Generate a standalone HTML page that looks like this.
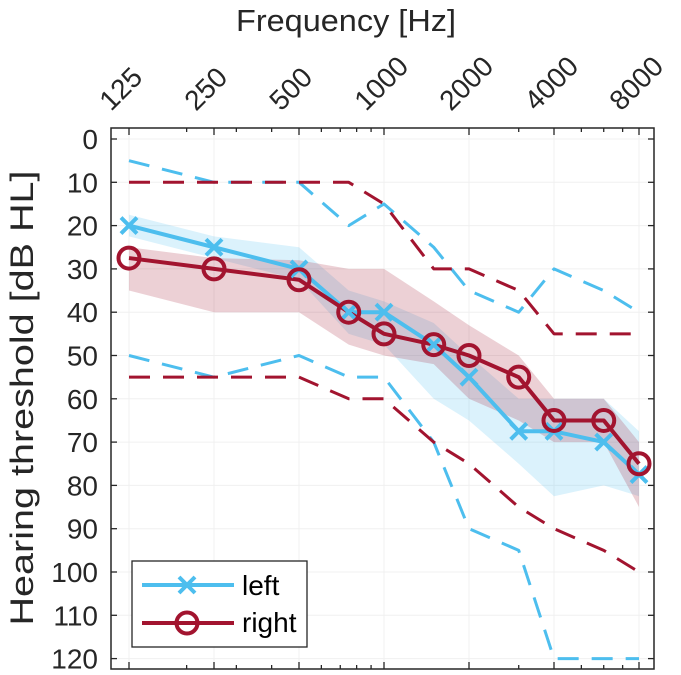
<!DOCTYPE html>
<html><head><meta charset="utf-8"><style>
html,body{margin:0;padding:0;background:#fff;}
svg{display:block;font-family:"Liberation Sans",sans-serif;}
</style></head><body>
<svg id="chart" width="681" height="675" viewBox="0 0 681 675" xmlns="http://www.w3.org/2000/svg"></svg>
<script>
const freqs=[125,250,500,750,1000,1500,2000,3000,4000,6000,8000];
const xTicks=[125,250,500,1000,2000,4000,8000];
const xTickLabels=["125","250","500","1000","2000","4000","8000"];
const yTicks=[0,10,20,30,40,50,60,70,80,90,100,110,120];
const leftMean=[20,25,30,40,40,47.5,55,67.5,67.5,70,77.5];
const rightMean=[27.5,30,32.5,40,45,47.5,50,55,65,65,75];
const leftBandUpper=[17.5,22.5,25,35,37.5,42.5,50,60,60,60,67.5];
const leftBandLower=[22.5,27.5,32.5,45,47.5,60,65,75,82.5,80,82.5];
const rightBandUpper=[25,27.5,28,30,30,37.5,43,50,60,60,70];
const rightBandLower=[35,40,40,47.5,50,52,60,65,70,70,85];
const leftMin=[5,10,10,20,15,25,35,40,30,35,40];
const leftMax=[50,55,50,55,55,70,90,95,120,120,120];
const rightMin=[10,10,10,10,15,30,30,35,45,45,45];
const rightMax=[55,55,55,60,60,70,75,85,90,95,100];

const NS="http://www.w3.org/2000/svg";
const svg=document.getElementById('chart');
const BL=111,BR=654,BT=128,BB=669;
const x=f=>129+85*Math.log2(f/125);
const y=v=>139+4.33*v;
function mk(tag,attrs,parent){const e=document.createElementNS(NS,tag);for(const k in attrs)e.setAttribute(k,attrs[k]);(parent||svg).appendChild(e);return e;}
const BLUE="#4DBEEE",RED="#A2142F";

const grid=mk('g',{});


xTicks.forEach(f=>mk('line',{x1:x(f),x2:x(f),y1:BT,y2:BB,stroke:'#f0f0f0','stroke-width':1},grid));
yTicks.forEach(v=>mk('line',{x1:BL,x2:BR,y1:y(v),y2:y(v),stroke:'#f0f0f0','stroke-width':1},grid));

function band(up,lo,color,name){
  let pts=freqs.map((f,i)=>x(f)+','+y(up[i]));
  pts=pts.concat(freqs.map((f,i)=>x(f)+','+y(lo[i])).reverse());
  const p=mk('polygon',{points:pts.join(' '),fill:color});
  
  
}
band(leftBandUpper,leftBandLower,'rgba(77,190,238,0.2)','left-band');
band(rightBandUpper,rightBandLower,'rgba(162,20,47,0.2)','right-band');

function line(vals,color,dash,name,w){
  const p=mk('polyline',{points:freqs.map((f,i)=>x(f)+','+y(vals[i])).join(' '),fill:'none',stroke:color,'stroke-width':w,'stroke-dasharray':dash||'none','stroke-linejoin':'round'});
  
  
}
line(leftMin,BLUE,'21 13','left-min-dashed',3);
line(leftMax,BLUE,'21 13','left-max-dashed',3);
line(rightMin,RED,'21 13','right-min-dashed',3);
line(rightMax,RED,'21 13','right-max-dashed',3);
line(leftMean,BLUE,null,'left-line',4);
line(rightMean,RED,null,'right-line',4);
function cross(cx,cy,g){mk('path',{d:`M${cx-8},${cy-8}L${cx+8},${cy+8}M${cx-8},${cy+8}L${cx+8},${cy-8}`,stroke:BLUE,'stroke-width':4,fill:'none'},g);}
const lm=mk('g',{});


freqs.forEach((f,i)=>cross(x(f),y(leftMean[i]),lm));
const rm=mk('g',{});


freqs.forEach((f,i)=>mk('circle',{cx:x(f),cy:y(rightMean[i]),r:10.5,fill:'none',stroke:RED,'stroke-width':4},rm));

const ax=mk('g',{});


mk('rect',{x:BL,y:BT,width:BR-BL,height:BB-BT,fill:'none',stroke:'#262626','stroke-width':1.5},ax);
const allX=[125,200,250,300,400,500,600,700,800,900,1000,2000,3000,4000,5000,6000,7000,8000];
allX.forEach(f=>{const L=xTicks.includes(f)?7:4;mk('line',{x1:x(f),x2:x(f),y1:BB,y2:BB-L,stroke:'#262626','stroke-width':1.3},ax);mk('line',{x1:x(f),x2:x(f),y1:BT,y2:BT+L,stroke:'#262626','stroke-width':1.3},ax);});
yTicks.forEach(v=>{mk('line',{x1:BL,x2:BL+6,y1:y(v),y2:y(v),stroke:'#262626','stroke-width':1.3},ax);mk('line',{x1:BR,x2:BR-6,y1:y(v),y2:y(v),stroke:'#262626','stroke-width':1.3},ax);});

yTicks.forEach(v=>{const t=mk('text',{x:98,y:y(v)+10,'text-anchor':'end','font-size':28,fill:'#262626'});t.textContent=v;

});
xTicks.forEach((f,i)=>{const X=x(f)-18,Y=112;const t=mk('text',{x:X,y:Y,'font-size':28,fill:'#262626',transform:`rotate(-45 ${X} ${Y})`});t.textContent=xTickLabels[i];

});

const xt=mk('text',{x:346,y:31,'text-anchor':'middle','font-size':31,fill:'#262626',textLength:220,lengthAdjust:'spacingAndGlyphs'});xt.textContent='Frequency [Hz]';


const yt=mk('text',{x:0,y:0,'text-anchor':'middle','font-size':32,fill:'#262626',textLength:455,lengthAdjust:'spacingAndGlyphs',transform:'translate(33,398) rotate(-90)'});yt.textContent='Hearing threshold [dB HL]';



const lg=mk('g',{});


mk('rect',{x:132,y:561,width:175,height:86,fill:'#fff',stroke:'#262626','stroke-width':1.3},lg);
mk('line',{x1:142,x2:234,y1:585,y2:585,stroke:BLUE,'stroke-width':4},lg);
cross(187,585,lg);
mk('line',{x1:142,x2:234,y1:623,y2:623,stroke:RED,'stroke-width':4},lg);
mk('circle',{cx:187,cy:623,r:10.5,fill:'none',stroke:RED,'stroke-width':4},lg);
const l1=mk('text',{x:242,y:595,'font-size':28,fill:'#000'},lg);l1.textContent='left';


const l2=mk('text',{x:242,y:632,'font-size':28,fill:'#000'},lg);l2.textContent='right';


</script>
</body></html>
